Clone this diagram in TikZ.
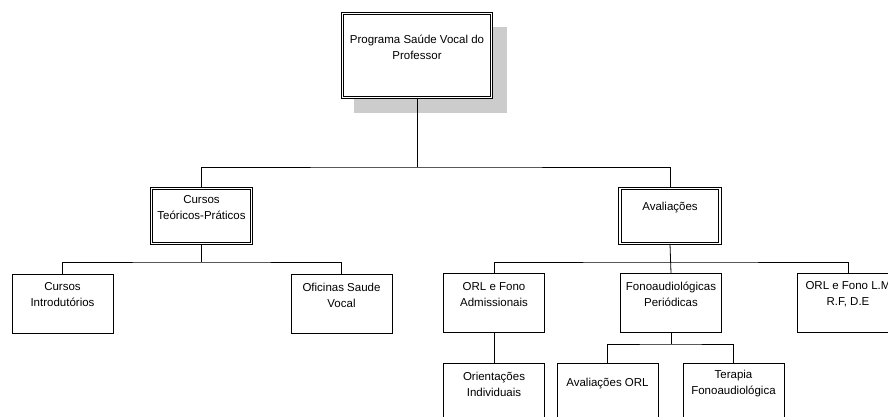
\documentclass[tikz,border=0pt]{standalone}
\usepackage{fontspec}
\usepackage{tikz}
\usetikzlibrary{calc}
\usetikzlibrary{positioning}
\usetikzlibrary{shadows}
\newfontfamily\orgfont{Liberation Sans}

\tikzset{
	orgbox/.style={draw=black, fill=white, line width=0.8pt, minimum width=101pt, minimum height=59pt, inner sep=0pt,
		font=\orgfont\fontsize{11.5}{16}\selectfont},
	dblbox/.style={orgbox, double=white, double distance=1.5pt, minimum width=100pt, minimum height=55pt},
	topbox/.style={dblbox, line width=1pt, minimum width=149pt, minimum height=84pt,
		general shadow={fill=black!20, shadow xshift=13pt, shadow yshift=-14pt, shadow scale=1.03}},
	link/.style={draw=black, line width=0.8pt},
}
\newcommand{\orgtext}[2]{\parbox[c]{#1}{\centering #2\par\vspace{17pt}}}

\begin{document}
\begin{tikzpicture}[x=1pt, y=-1pt]
	
	\useasboundingbox (0,0) rectangle (888,417);
	\clip (0,0) rectangle (888,417);
	
	\node[topbox] (prog) at (417,55.5) {\orgtext{149pt}{Programa Saúde Vocal do\\Professor}};
	
	\node[dblbox] (cursos) at (201.5,216) {\orgtext{100pt}{Cursos\\Teóricos-Práticos}};
	\node[dblbox] (aval) at (670,216) {\orgtext{100pt}{Avaliações}};
	
	\node[orgbox] (introd) at (62.5,303.5) {\orgtext{100pt}{Cursos\\Introdutórios}};
	\node[orgbox] (oficinas) at (341.5,303.5) {\orgtext{100pt}{Oficinas Saude\\Vocal}};
	
	\node[orgbox] (orladm) at (494,303) {\orgtext{100pt}{ORL e Fono\\Admissionais}};
	\node[orgbox] (fonoper) at (671,303) {\orgtext{100pt}{Fonoaudiológicas\\Periódicas}};
	\node[orgbox] (orllm) at (848,303) {\orgtext{100pt}{ORL e Fono L.M\\R.F, D.E}};
	
	\node[orgbox] (orient) at (494,392.5) {\orgtext{100pt}{Orientações\\Individuais}};
	\node[orgbox] (avorl) at (607.5,392.5) {\orgtext{100pt}{Avaliações ORL}};
	\node[orgbox] (terapia) at (733.5,392.5) {\orgtext{100pt}{Terapia\\Fonoaudiológica}};
	
	% barramentos
	\coordinate (busa) at (0,167);
	\coordinate (busb) at (0,262);
	\coordinate (busc) at (0,344);
	
	\draw[link] (prog.south) -- (prog.south |- busa);
	\draw[link] (cursos.north) |- (prog.south |- busa) -| (aval.north);
	
	\draw[link] (cursos.south) -- (cursos.south |- busb);
	\draw[link] (introd.north) |- (cursos.south |- busb) -| (oficinas.north);
	
	\draw[link] (aval.south) -- (fonoper.north);
	\draw[link] (orladm.north) |- (aval.south |- busb) -| (orllm.north);
	
	\draw[link] (orladm.south) -- (orient.north);
	\draw[link] (fonoper.south) -- (fonoper.south |- busc);
	\draw[link] (avorl.north) |- (fonoper.south |- busc) -| (terapia.north);
	
\end{tikzpicture}
\end{document}
